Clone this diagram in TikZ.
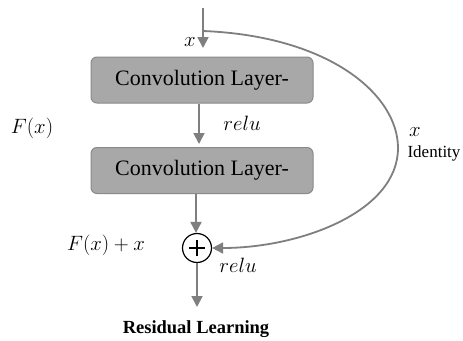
\documentclass[tikz,border=0pt]{standalone}
\usepackage{fontspec}
\setmainfont{Liberation Serif}
\usetikzlibrary{arrows.meta}
\definecolor{arrowgray}{HTML}{7F7F7F}
\definecolor{boxfill}{HTML}{A8A8A8}
\definecolor{boxdraw}{HTML}{8A8A8A}
\tikzset{
  layerbox/.style={draw=boxdraw, fill=boxfill, line width=1pt, rounded corners=6pt,
    minimum width=222pt, minimum height=46pt, inner sep=0pt,
    font=\fontsize{22}{26}\selectfont},
  flow/.style={draw=arrowgray, line width=1.8pt,
    -{Triangle[length=11pt,width=11pt]}, arrowgray},
  mathlbl/.style={inner sep=0pt, font=\fontsize{21.5}{24}\selectfont},
  sumnode/.style={circle, draw=black, line width=1.2pt, fill=white,
    minimum size=29pt, inner sep=0pt}
}
\begin{document}
\begin{tikzpicture}[x=1pt,y=-1pt]
\useasboundingbox (0,0) rectangle (463,340);
\fill[white] (0,0) rectangle (463,340);
\node[layerbox] (box1) at (202,80) {Convolution Layer-};
\node[layerbox] (box2) at (202,170.5) {Convolution Layer-};
\node[sumnode] (sum) at (197,248) {};
\draw[line width=1.2pt] ([xshift=-8pt]sum.center) -- ([xshift=8pt]sum.center)
  ([yshift=-8pt]sum.center) -- ([yshift=8pt]sum.center);
\coordinate (top) at (203,8);
\coordinate (split) at (203,31);
\coordinate (bottom) at (197,307);
\draw[flow] (top) -- (203,48);
\draw[flow] (box1.south -| 199,0) -- (199,144);
\draw[flow] (box2.south -| 196,0) -- (sum.north -| 196,0);
\draw[flow] (sum.south) -- (bottom);
\draw[flow] (split) .. controls (330,36) and (398,95) .. (398,148)
  .. controls (398,212) and (300,248) .. (sum.east);
\node[mathlbl] (xin) at (190,42) {$x$};
\node[mathlbl] (relu1) at (242,123) {$relu$};
\node[mathlbl] (fx) at (32,128) {$F(x)$};
\node[mathlbl] (xid) at (415,132) {$x$};
\node[inner sep=0pt, font=\fontsize{17}{20}\selectfont] (ident) at (434,153) {Identity};
\node[mathlbl] (fxx) at (106,245) {$F(x)+x$};
\node[mathlbl] (relu2) at (238,265) {$relu$};
\node[inner sep=0pt, font=\fontsize{18.5}{22}\selectfont\bfseries] (title) at (196,329) {Residual Learning};
\end{tikzpicture}
\end{document}
